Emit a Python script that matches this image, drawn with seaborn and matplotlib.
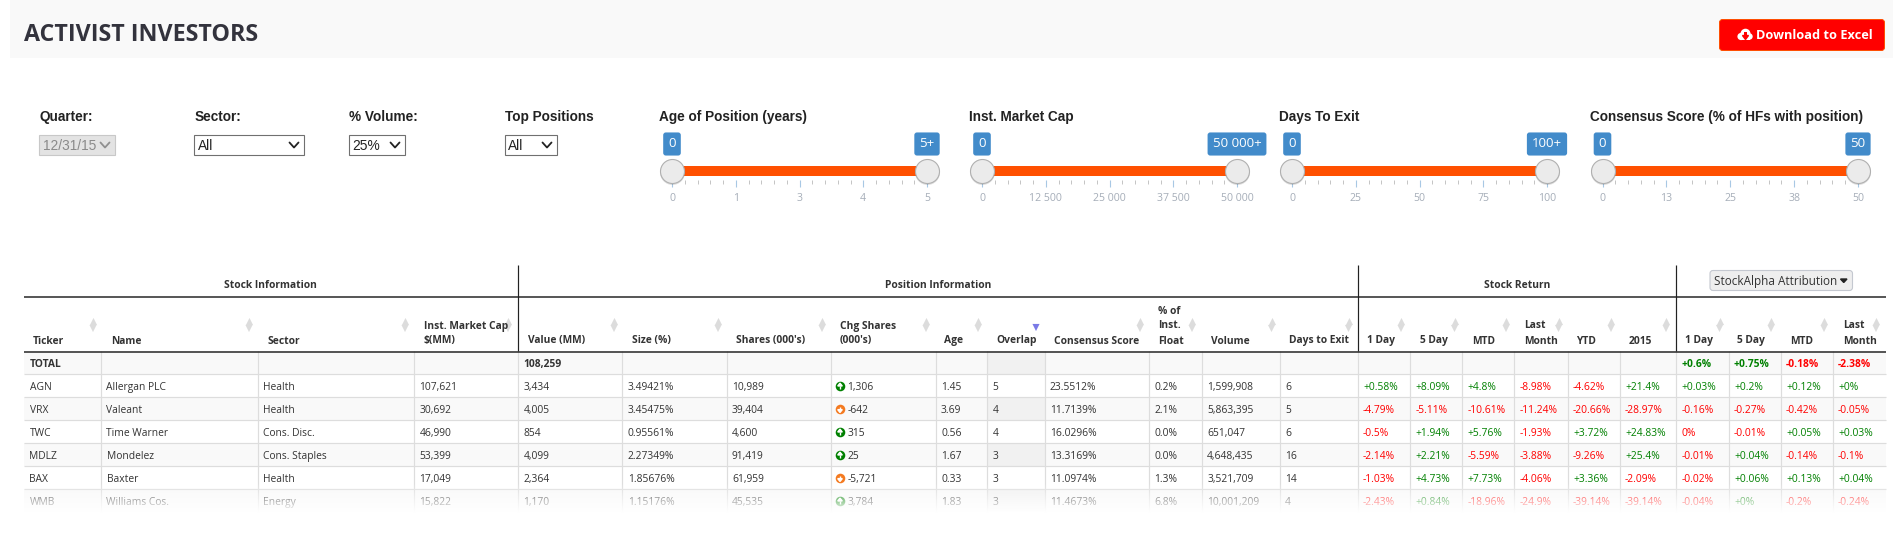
import numpy as np
import pandas as pd
import matplotlib
matplotlib.use("Agg")
import matplotlib.pyplot as plt
import matplotlib.colors as mcolors
from matplotlib.patches import Rectangle, FancyBboxPatch, Circle
import seaborn as sns

# --- data ------------------------------------------------------------------
tickers = ["TOTAL", "AGN", "VRX", "TWC", "MDLZ", "BAX", "WMB"]
names = ["", "Allergan PLC", "Valeant", "Time Warner", "Mondelez", "Baxter", "Williams Cos."]
sectors = ["", "Health", "Health", "Cons. Disc.", "Cons. Staples", "Health", "Energy"]
market_caps = ["", "107,621", "30,692", "46,990", "53,399", "17,049", "15,822"]
values_mm = ["108,259", "3,434", "4,005", "854", "4,099", "2,364", "1,170"]
sizes = ["", "3.49421%", "3.45475%", "0.95561%", "2.27349%", "1.85676%", "1.15176%"]
shares = ["", "10,989", "39,404", "4,600", "91,419", "61,959", "45,535"]
chg_shares = ["", "1,306", "-642", "315", "25", "-5,721", "3,784"]
ages = ["", "1.45", "3.69", "0.56", "1.67", "0.33", "1.83"]
overlap = ["", "5", "4", "4", "3", "3", "3"]
consensus = ["", "23.5512%", "11.7139%", "16.0296%", "13.3169%", "11.0974%", "11.4673%"]
inst_float = ["", "0.2%", "2.1%", "0.0%", "0.0%", "1.3%", "6.8%"]
volumes = ["", "1,599,908", "5,863,395", "651,047", "4,648,435", "3,521,709", "10,001,209"]
days_exit = ["", "6", "5", "6", "16", "14", "4"]
ret_1d = ["", "+0.58%", "-4.79%", "-0.5%", "-2.14%", "-1.03%", "-2.43%"]
ret_5d = ["", "+8.09%", "-5.11%", "+1.94%", "+2.21%", "+4.73%", "+0.84%"]
ret_mtd = ["", "+4.8%", "-10.61%", "+5.76%", "-5.59%", "+7.73%", "-18.96%"]
ret_lm = ["", "-8.98%", "-11.24%", "-1.93%", "-3.88%", "-4.06%", "-24.9%"]
ret_ytd = ["", "-4.62%", "-20.66%", "+3.72%", "-9.26%", "+3.36%", "-39.14%"]
ret_2015 = ["", "+21.4%", "-28.97%", "+24.83%", "+25.4%", "-2.09%", "-39.14%"]
alpha_1d = ["+0.6%", "+0.03%", "-0.16%", "0%", "-0.01%", "-0.02%", "-0.04%"]
alpha_5d = ["+0.75%", "+0.2%", "-0.27%", "-0.01%", "+0.04%", "+0.06%", "+0%"]
alpha_mtd = ["-0.18%", "+0.12%", "-0.42%", "+0.05%", "-0.14%", "+0.13%", "-0.2%"]
alpha_lm = ["-2.38%", "+0%", "-0.05%", "+0.03%", "-0.1%", "+0.04%", "-0.24%"]

table_columns = [tickers, names, sectors, market_caps, values_mm, sizes, shares, chg_shares,
                 ages, overlap, consensus, inst_float, volumes, days_exit,
                 ret_1d, ret_5d, ret_mtd, ret_lm, ret_ytd, ret_2015,
                 alpha_1d, alpha_5d, alpha_mtd, alpha_lm]
headers = [["Ticker"], ["Name"], ["Sector"], ["$(MM)", "Inst. Market Cap"], ["Value (MM)"], ["Size (%)"],
           ["Shares (000's)"], ["(000's)", "Chg Shares"], ["Age"], ["Overlap"], ["Consensus Score"],
           ["Float", "Inst.", "% of"], ["Volume"], ["Days to Exit"],
           ["1 Day"], ["5 Day"], ["MTD"], ["Month", "Last"], ["YTD"], ["2015"],
           ["1 Day"], ["5 Day"], ["MTD"], ["Month", "Last"]]
sections = ["Stock Information", "Position Information", "Stock Return"]

filter_labels = ["Quarter:", "Sector:", "% Volume:", "Top Positions"]
filter_values = ["12/31/15", "All", "25%", "All"]

slider_titles = ["Age of Position (years)", "Inst. Market Cap", "Days To Exit",
                 "Consensus Score (% of HFs with position)"]
slider_max = [5, 50000, 100, 50]
slider_badges = [("0", "5+"), ("0", "50 000+"), ("0", "100+"), ("0", "50")]
slider_ticks = [["0", "1", "3", "4", "5"],
                ["0", "12 500", "25 000", "37 500", "50 000"],
                ["0", "25", "50", "75", "100"],
                ["0", "13", "25", "38", "50"]]

# --- layout (pixels of the 1902x549 picture) --------------------------------
W, H = 1902, 549
col_edges = [24, 101, 257.5, 414, 518, 622.4, 726.5, 830.6, 935.5, 987, 1044.5, 1149, 1201.6,
             1279.6, 1357.5, 1410, 1462.3, 1514.3, 1567.5, 1619.5, 1675.6, 1728.5, 1780.5,
             1832.5, 1885.7]
header_x = [33, 111.4, 267, 423.7, 528, 632, 736, 840, 944.5, 996.7, 1054, 1158, 1210.6, 1289,
            1367, 1419.7, 1472, 1524.5, 1576.5, 1629, 1685, 1737, 1790, 1842.7]
sort_x = [93, 249, 405, 508, 614, 718, 822, 926, 978, 1140, 1192, 1271.5, 1348.5,
          1401, 1454.5, 1506, 1558.5, 1611, 1666, 1719.5, 1771, 1824, 1876]
section_x = [270.6, 938, 1516.8]
section_lines = [518, 1357.5, 1675.6]
row_top = 351
row_h = 23
filter_x = [39, 195, 349, 505]
filter_box = [(39, 114.7), (194, 303.7), (349.4, 404.5), (504.5, 556.7)]
filter_text_x = [43, 198, 352.6, 508]
filter_chevron_x = [105, 294, 395, 547]
slider_title_x = [659, 969, 1279, 1590]
slider_x = [(672, 927), (982, 1237), (1292, 1547), (1602.5, 1858)]

TEXT = "#333333"
GREEN = "#008000"
RED = "#ff0000"
PT = 72 / 100  # one pixel in points

sns.set_theme(style="white")
plt.rcParams["font.family"] = ["Open Sans", "DejaVu Sans"]

fig = plt.figure(figsize=(W / 100, H / 100), dpi=100, facecolor="white")


def px_rect(x0, y0, x1, y1):
    return [x0 / W, 1 - y1 / H, (x1 - x0) / W, (y1 - y0) / H]


# --- table background: heatmap on an x scale that follows the column edges ---
n_rows, n_cols = len(tickers), len(table_columns)
shade = np.zeros((n_rows, n_cols))
shade[::2, :] = 1
shade[::2, 9] = 2
cell_cmap = mcolors.ListedColormap(["#ffffff", "#f9f9f9", "#f1f1f1"])

ax_bg = fig.add_axes(px_rect(col_edges[0], row_top, col_edges[-1], row_top + n_rows * row_h), zorder=0)
sns.heatmap(shade, ax=ax_bg, cmap=cell_cmap, vmin=0, vmax=2, cbar=False,
            xticklabels=False, yticklabels=False, linewidths=0)
idx = np.arange(n_cols + 1)
ax_bg.set_xscale("function", functions=(lambda v: np.interp(v, idx, col_edges),
                                        lambda v: np.interp(v, col_edges, idx)))
ax_bg.set_xlim(0, n_cols)
ax_bg.set_axis_off()

# --- everything else is placed in pixel coordinates --------------------------
ax = fig.add_axes([0, 0, 1, 1], zorder=1)
ax.set_xlim(0, W)
ax.set_ylim(H, 0)
ax.patch.set_alpha(0)
ax.set_axis_off()

# title band
ax.add_patch(Rectangle((10, 0), 1883, 57.5, fc="#f9f9f9", ec="none", zorder=0))
ax.text(24, 41, "ACTIVIST INVESTORS", fontsize=23.3 * PT, fontweight="bold", color="#33333d")
ax.add_patch(FancyBboxPatch((1719.5, 19.5), 165, 31, boxstyle="round,pad=0,rounding_size=3",
                            fc="#ff0000", ec="#ff4d00", lw=0.7))
# cloud icon of the button
for cx, cy, r in [(1741, 36.5, 3.6), (1745.5, 33.7, 5), (1749.5, 36.5, 3.2)]:
    ax.add_patch(Circle((cx, cy), r, fc="white", ec="none", zorder=3))
ax.add_patch(Rectangle((1741, 36), 8.5, 4, fc="white", ec="none", zorder=3))
ax.fill([1742.5, 1748.5, 1745.5], [35.5, 35.5, 39.5], color="#ff0000", zorder=4)
ax.add_patch(Rectangle((1744.4, 31.5), 2.2, 4.5, fc="#ff0000", ec="none", zorder=4))
ax.text(1756, 39, "Download to Excel", fontsize=12.8 * PT, fontweight="bold", color="white")

# dropdown filters
for i, label in enumerate(filter_labels):
    ax.text(filter_x[i], 121, label, fontsize=13.6 * PT, fontweight="bold", color="#222222",
            family=["Liberation Sans"])
    disabled = i == 0
    x0, x1 = filter_box[i]
    ax.add_patch(Rectangle((x0, 135), x1 - x0, 20, fc="#e3e3e3" if disabled else "white",
                           ec="#c8c8c8" if disabled else "#707070", lw=0.8))
    ax.text(filter_text_x[i], 150, filter_values[i], fontsize=13.7 * PT,
            color="#8a8a8a" if disabled else "#222222", family=["Liberation Sans"])
    cx = filter_chevron_x[i]
    ax.plot([cx - 4.5, cx, cx + 4.5], [142.5, 147.5, 142.5],
            color="#909090" if disabled else "#222222", lw=1.3)

# range sliders, each one on its own small axis
for i, title in enumerate(slider_titles):
    ax.text(slider_title_x[i], 121, title, fontsize=13.6 * PT, fontweight="bold", color="#222222",
            family=["Liberation Sans"])
    x0, x1 = slider_x[i]
    top = slider_max[i]
    ax_s = fig.add_axes(px_rect(x0, 162, x1, 180), zorder=2)
    ax_s.patch.set_alpha(0)
    sns.lineplot(x=[0, top], y=[0, 0], ax=ax_s, color="#ff5000", linewidth=10 * PT,
                 solid_capstyle="butt", errorbar=None, legend=False, clip_on=False)
    sns.scatterplot(x=[0, top], y=[-0.7, -0.7], ax=ax_s, s=(25 * PT) ** 2, color="#000000", alpha=0.13,
                    linewidth=0, legend=False, clip_on=False, zorder=3)
    sns.scatterplot(x=[0, top], y=[0, 0], ax=ax_s, s=(24 * PT) ** 2, color="#ebebeb", edgecolor="#b0b0b0",
                    linewidth=0.8, legend=False, clip_on=False, zorder=4)
    ax_s.set_xlim(0, top)
    ax_s.set_ylim(-9, 9)
    ax_s.set_yticks([])
    ax_s.set_xticks(np.linspace(0, top, 5), labels=slider_ticks[i])
    ax_s.set_xticks(np.linspace(0, top, 21), minor=True)
    ax_s.tick_params(axis="x", which="major", length=7 * PT, width=0.8, color="#a8c8e4", pad=6 * PT,
                     labelsize=10.5 * PT, labelcolor="#a5adb8", bottom=True)
    ax_s.tick_params(axis="x", which="minor", length=3.5 * PT, width=0.7, color="#c4c4c4", bottom=True)
    ax_s.set_xlabel("")
    ax_s.set_ylabel("")
    sns.despine(ax=ax_s, left=True, bottom=True)
    for val, txt in zip([0, top], slider_badges[i]):
        ax_s.annotate(txt, xy=(val, 0), xytext=(0, 27 * PT), textcoords="offset points", ha="center",
                      va="center", fontsize=13.3 * PT, color="white", annotation_clip=False,
                      bbox=dict(boxstyle="round,pad=0.38,rounding_size=0.2", fc="#428bca", ec="none"))

# table rules
row_edges = row_top + row_h * np.arange(n_rows + 1)
ax.hlines(row_edges[1:-1], col_edges[0], col_edges[-1], color="#dddddd", lw=1.2 * PT, zorder=1)
ax.vlines(col_edges[1:-1], row_top, row_edges[-1], color="#dddddd", lw=1.2 * PT, zorder=1)
ax.hlines([296.5, 351.5], col_edges[0], col_edges[-1], color="#222222", lw=1.5 * PT, zorder=2)
ax.vlines(section_lines, 265, 351, color="#222222", lw=1.2 * PT, zorder=2)

# table header
for x, label in zip(section_x, sections):
    ax.text(x, 288.5, label, fontsize=10.3 * PT, fontweight="bold", color=TEXT, ha="center")
for x, lines in zip(header_x, headers):
    for k, line in enumerate(lines):
        ax.text(x, 343.5 - 15 * k, line, fontsize=10.3 * PT, fontweight="bold", color=TEXT)

sns.scatterplot(x=sort_x, y=[320.5] * len(sort_x), ax=ax, marker="^", s=(5.5 * PT * 1.3) ** 2,
                color="#dcdcdc", linewidth=0, legend=False, zorder=2)
sns.scatterplot(x=sort_x + [1036], y=[328.5] * len(sort_x) + [327.5], ax=ax, marker="v",
                s=(5.5 * PT * 1.3) ** 2, hue=["grey"] * len(sort_x) + ["blue"],
                palette={"grey": "#dcdcdc", "blue": "#7a7ae6"}, linewidth=0, legend=False, zorder=2)
ax.set_xlim(0, W)
ax.set_ylim(H, 0)
ax.set_xlabel("")
ax.set_ylabel("")

# StockAlpha dropdown
ax.add_patch(FancyBboxPatch((1710, 270.5), 142.5, 20, boxstyle="round,pad=0,rounding_size=3",
                            fc="#eeeeee", ec="#c4c8d0", lw=0.8, zorder=3))
ax.text(1714.5, 285, "StockAlpha Attribution", fontsize=11.7 * PT, color=TEXT, zorder=4)
ax.fill([1840.5, 1847, 1843.75], [279, 279, 282.5], color="#222222", zorder=4)

# table body
chg_col = 7
first_colored = 14
for j, column in enumerate(table_columns):
    for r, cell in enumerate(column):
        if cell == "":
            continue
        x = col_edges[j] + 5.5
        y = row_top + r * row_h + 16
        weight = "bold" if r == 0 else "normal"
        color = TEXT
        if j >= first_colored:
            color = GREEN if cell.startswith("+") else RED
        if j == chg_col:
            up = not cell.startswith("-")
            sns.scatterplot(x=[x + 3.9], y=[y - 3.7], ax=ax, s=(9.6 * PT) ** 2,
                            color="#008000" if up else "#f47a20", linewidth=0, legend=False, zorder=3)
            # small white arrow inside the badge
            tip = y - 6.9 if up else y - 0.5
            base = y - 4.0 if up else y - 3.4
            ax.fill([x + 1.6, x + 6.2, x + 3.9], [base, base, tip], color="white", zorder=4)
            stem_end = y - 1.2 if up else y - 6.2
            ax.plot([x + 3.9, x + 3.9], [base, stem_end], color="white", lw=1.0, zorder=4,
                    solid_capstyle="butt")
            x += 11.5
        ax.text(x, y, cell, fontsize=10.3 * PT, fontweight=weight, color=color, zorder=3)
ax.set_xlim(0, W)
ax.set_ylim(H, 0)
ax.set_xlabel("")
ax.set_ylabel("")

# table fades out into the page at the bottom
fade = np.ones((50, 2, 4))
fade[..., 3] = np.clip(np.linspace(-0.05, 1.0, 50)[:, None], 0, 1)
ax.imshow(fade, extent=(0, W, 513, 481), aspect="auto", zorder=5, interpolation="bilinear")
ax.set_xlim(0, W)
ax.set_ylim(H, 0)
ax.add_patch(Rectangle((0, 513), W, H - 513, fc="white", ec="none", zorder=5))

fig.savefig("out.png", dpi=100, facecolor="white")
